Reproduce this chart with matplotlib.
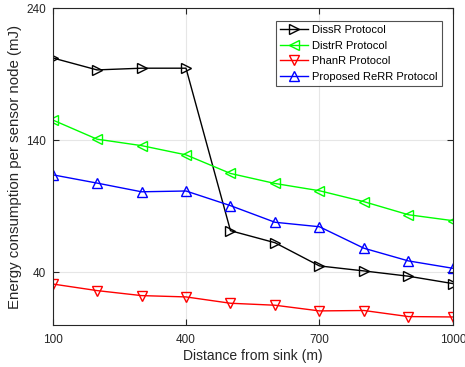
import matplotlib
matplotlib.use("Agg")
import matplotlib.pyplot as plt

plt.rcParams['font.family'] = ['Liberation Sans', 'DejaVu Sans']

# data
distance = [100, 200, 300, 400, 500, 600, 700, 800, 900, 1000]
dissr = [202.5, 193.4, 194.7, 194.7, 71.5, 62.4, 44.8, 41.0, 37.0, 31.4]
distr = [155.5, 140.9, 136.0, 129.0, 114.9, 107.3, 101.8, 93.5, 83.6, 79.1]
phanr = [31.1, 26.1, 22.3, 21.3, 16.5, 15.0, 10.7, 11.0, 6.4, 6.1]
rerr = [113.9, 107.6, 101.0, 101.6, 90.5, 77.9, 74.5, 58.2, 48.6, 43.0]
labels = ["DissR Protocol", "DistrR Protocol", "PhanR Protocol", "Proposed ReRR Protocol"]
xticks = [100, 400, 700, 1000]
yticks = [40, 140, 240]

fig = plt.figure(figsize=(4.65, 3.67), dpi=100)
ax = fig.add_axes([0.113, 0.1144, 0.861, 0.8626])

ms = 7
ax.plot(distance, dissr, '-', color='black', marker='>', mfc='none', ms=ms, lw=1, label=labels[0])
ax.plot(distance, distr, '-', color='#00ff00', marker='<', mfc='none', ms=ms, lw=1, label=labels[1])
ax.plot(distance, phanr, '-', color='red', marker='v', mfc='none', ms=ms, lw=1, label=labels[2])
ax.plot(distance, rerr, '-', color='blue', marker='^', mfc='none', ms=ms, lw=1, label=labels[3])

ax.set_xlim(100, 1000)
ax.set_ylim(0, 240)
ax.set_xticks(xticks)
ax.set_yticks(yticks)
ax.grid(True, color='#e6e6e6', lw=0.8)
ax.set_axisbelow(True)
ax.tick_params(direction='in', length=4, labelsize=8.5, colors='#262626', top=True, right=True)
ax.tick_params(axis='x', pad=6.5)
ax.tick_params(axis='y', pad=4.5)
for s in ax.spines.values():
    s.set_color('#262626')
    s.set_linewidth(0.8)

ax.set_xlabel("Distance from sink (m)", fontsize=10, color='#262626', labelpad=2)
ax.set_ylabel("Energy consumption per sensor node (mJ)", fontsize=10.8, color='#262626', labelpad=3)

leg = ax.legend(loc='upper right', bbox_to_anchor=(0.973, 0.9615), fontsize=8, frameon=True,
                fancybox=False, handlelength=2.5, handletextpad=0.35, borderpad=0.4,
                labelspacing=0.5, borderaxespad=0)
leg.get_frame().set_edgecolor('#262626')
leg.get_frame().set_linewidth(0.8)

fig.savefig("out.png", dpi=100)
